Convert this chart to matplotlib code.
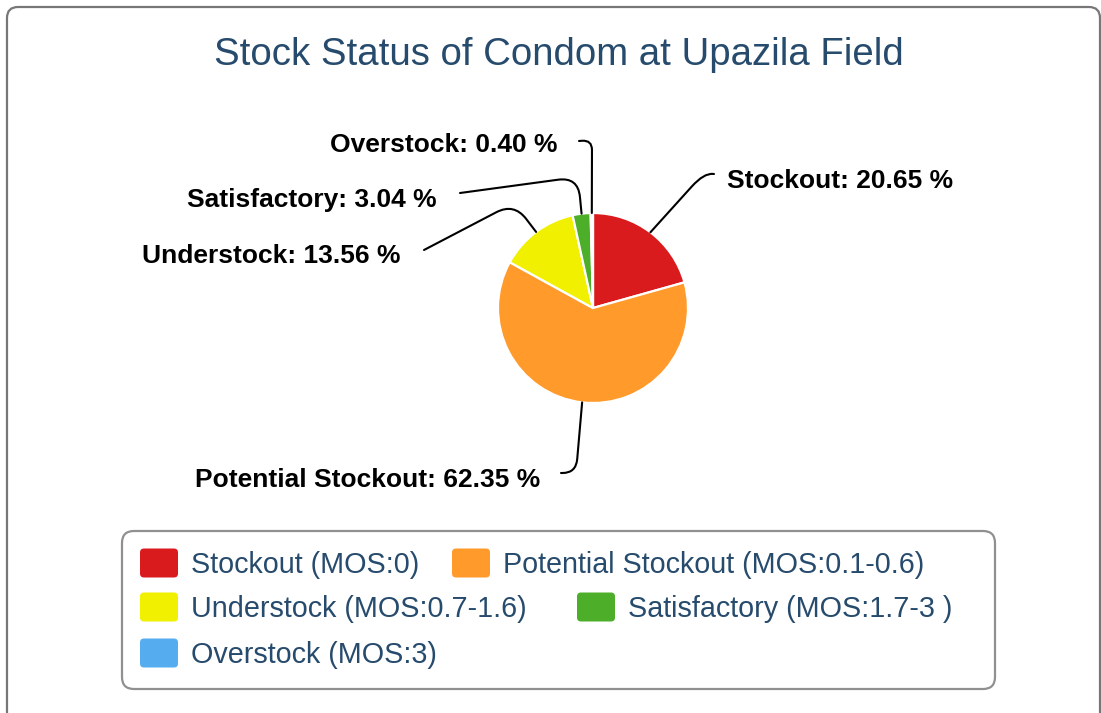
import numpy as np
import matplotlib
matplotlib.use('Agg')
import matplotlib.pyplot as plt
from matplotlib.patches import FancyBboxPatch, PathPatch
from matplotlib.path import Path

W, H = 1101, 713

categories = ['Stockout', 'Potential Stockout', 'Understock', 'Satisfactory', 'Overstock']
shares = [20.65, 62.35, 13.56, 3.04, 0.40]
mos_ranges = ['MOS:0', 'MOS:0.1-0.6', 'MOS:0.7-1.6', 'MOS:1.7-3 ', 'MOS:3']
colors = ['#d91b1e', '#ff9a2b', '#f0f000', '#4cae29', '#55acee']
title = 'Stock Status of Condom at Upazila Field'

TEXT_BLUE = '#274b6d'
FONT = 'Liberation Sans'

# layout in pixels (y measured from the top, converted below)
pie_cx, pie_cy, pie_r = 593, 308, 95
# label anchor x, y, alignment, connector bend point, connector end point, rounding
label_layout = {
    'Stockout': (727, 181, 'left', (704, 173), (714, 174), 18),
    'Potential Stockout': (540, 480, 'right', (576, 473), (561, 473), 14),
    'Understock': (400, 256, 'right', (514, 203), (424, 250), 20),
    'Satisfactory': (437, 200, 'right', (578, 177), (460, 193), 20),
    'Overstock': (558, 145, 'right', (592, 140), (579, 141), 10),
}
legend_pos = [(140, 563), (452, 563), (140, 607), (577, 607), (140, 653)]


def Y(y):
    return H - y


def rounded_connector(p0, p1, p2, d=12):
    p0, p1, p2 = np.array(p0, float), np.array(p1, float), np.array(p2, float)
    v1 = p1 - p0
    v2 = p2 - p1
    a = p1 - v1 / np.linalg.norm(v1) * min(d, np.linalg.norm(v1) * 0.6)
    b = p1 + v2 / np.linalg.norm(v2) * min(d, np.linalg.norm(v2) * 0.9)
    verts = [p0, a, p1, b, p2]
    codes = [Path.MOVETO, Path.LINETO, Path.CURVE3, Path.CURVE3, Path.LINETO]
    return Path(verts, codes)


fig = plt.figure(figsize=(W / 100, H / 100), dpi=100)
ax = fig.add_axes([0, 0, 1, 1])

wedges, _ = ax.pie(shares, colors=colors, startangle=90, counterclock=False,
                   center=(pie_cx, Y(pie_cy)), radius=pie_r,
                   wedgeprops=dict(edgecolor='white', linewidth=1.6))

ax.set_xlim(0, W)
ax.set_ylim(0, H)
ax.set_aspect('equal')
ax.axis('off')

# outer chart border
ax.add_patch(FancyBboxPatch((7, -30), 1093, Y(7) + 30,
                            boxstyle='round,pad=0,rounding_size=11',
                            fc='none', ec='#777777', lw=1.6))

ax.text(W / 2 + 8, Y(55), title, ha='center', va='center', fontsize=27.6,
        color=TEXT_BLUE, family=FONT)

# data labels with connectors
for w, cat, val in zip(wedges, categories, shares):
    mid = np.deg2rad((w.theta1 + w.theta2) / 2)
    edge = (pie_cx + pie_r * np.cos(mid), Y(pie_cy) + pie_r * np.sin(mid))
    lx, ly, ha, bend, end, rnd = label_layout[cat]
    path = rounded_connector(edge, (bend[0], Y(bend[1])), (end[0], Y(end[1])), rnd)
    ax.add_patch(PathPatch(path, fc='none', ec='black', lw=1.5, capstyle='round'))
    ax.text(lx, Y(ly), f'{cat}: {val:.2f} %', ha=ha, va='center', fontsize=19,
            fontweight='bold', color='black', family=FONT)

# legend
ax.add_patch(FancyBboxPatch((122, Y(689)), 873, 158,
                            boxstyle='round,pad=0,rounding_size=12',
                            fc='none', ec='#909090', lw=1.6))
for (x, y), cat, mos, c in zip(legend_pos, categories, mos_ranges, colors):
    ax.add_patch(FancyBboxPatch((x, Y(y) - 14.5), 38, 29,
                                boxstyle='round,pad=0,rounding_size=4',
                                fc=c, ec='none'))
    ax.text(x + 51, Y(y + 2), f'{cat} ({mos})', ha='left', va='center',
            fontsize=20.7, color=TEXT_BLUE, family=FONT)

fig.savefig('out.png', dpi=100)
